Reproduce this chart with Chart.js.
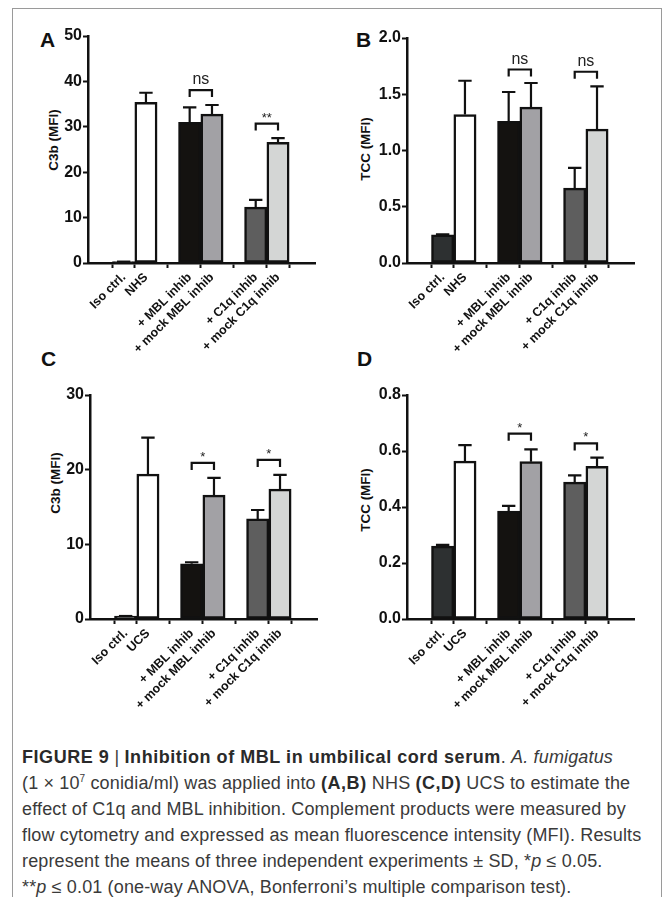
<!DOCTYPE html>
<html>
<head>
<meta charset="utf-8">
<title>Figure 9</title>
<script src="https://cdn.jsdelivr.net/npm/chart.js"></script>
<style>
  body { margin:0; background:#fff; width:663px; height:897px; overflow:hidden; font-family:"Liberation Sans", Arial, sans-serif; }
  .frame { position:absolute; left:12px; top:8px; width:648px; height:950px; border:1px solid #9a9a9a; }
  .box { position:absolute; }
  .letter { position:absolute; font-weight:bold; font-size:21px; color:#111; }
  .ytitle { position:absolute; font-weight:bold; font-size:13.5px; color:#111; white-space:nowrap; transform:translate(-50%,-50%) rotate(-90deg); }
  .caption { position:absolute; left:22px; top:744px; font-size:18px; line-height:26px; color:#3a3a3a; white-space:nowrap; letter-spacing:0.15px; }
  .caption b { color:#2a2a2a; letter-spacing:0.55px; }
</style>
</head>
<body>
<div class="frame"></div>

<div class="letter" style="left:40px;top:28px">A</div>
<div class="letter" style="left:356px;top:28px">B</div>
<div class="letter" style="left:41px;top:347px">C</div>
<div class="letter" style="left:357px;top:347px">D</div>

<div class="ytitle" style="left:53px;top:140px">C3b (MFI)</div>
<div class="ytitle" style="left:365px;top:149px">TCC (MFI)</div>
<div class="ytitle" style="left:55px;top:483px">C3b (MFI)</div>
<div class="ytitle" style="left:365px;top:500px">TCC (MFI)</div>

<div class="box" style="left:28px;top:20px"><canvas id="a" width="300" height="345"></canvas></div>
<div class="box" style="left:347px;top:20px"><canvas id="b" width="300" height="345"></canvas></div>
<div class="box" style="left:30px;top:380px"><canvas id="c" width="300" height="330"></canvas></div>
<div class="box" style="left:347px;top:380px"><canvas id="d" width="300" height="330"></canvas></div>

<div class="caption">
<b>FIGURE 9</b> | <b>Inhibition of MBL in umbilical cord serum</b>. <i>A. fumigatus</i><br>
(1 × 10<sup style="font-size:10px;line-height:0">7</sup> conidia/ml) was applied into <b>(A,B)</b> NHS <b>(C,D)</b> UCS to estimate the<br>
effect of C1q and MBL inhibition. Complement products were measured by<br>
flow cytometry and expressed as mean fluorescence intensity (MFI). Results<br>
represent the means of three independent experiments ± SD, *<i>p</i> ≤ 0.05.<br>
**<i>p</i> ≤ 0.01 (one-way ANOVA, Bonferroni’s multiple comparison test).
</div>

<script>
// groups on the x axis
const labelsNHS = ["Iso ctrl.", "NHS", "+ MBL inhib", "+ mock MBL inhib", "+ C1q inhib", "+ mock C1q inhib"];
const labelsUCS = ["Iso ctrl.", "UCS", "+ MBL inhib", "+ mock MBL inhib", "+ C1q inhib", "+ mock C1q inhib"];

// A: C3b in NHS
const c3bNHS = [0.3, 35.4, 31.0, 32.8, 12.3, 26.6];
const c3bNHSsd = [0, 2.1, 3.3, 2.0, 1.6, 0.9];
// B: TCC in NHS
const tccNHS = [0.25, 1.32, 1.26, 1.385, 0.665, 1.19];
const tccNHSsd = [0.005, 0.30, 0.26, 0.215, 0.18, 0.38];
// C: C3b in UCS
const c3bUCS = [0.4, 19.4, 7.4, 16.6, 13.4, 17.4];
const c3bUCSsd = [0, 4.9, 0.2, 2.3, 1.2, 1.9];
// D: TCC in UCS
const tccUCS = [0.26, 0.564, 0.385, 0.562, 0.489, 0.545];
const tccUCSsd = [0.005, 0.057, 0.019, 0.044, 0.024, 0.031];

// significance brackets: [from bar, to bar, height, text]
const sigA = [[2, 3, 38.1, "ns"], [4, 5, 30.7, "**"]];
const sigB = [[2, 3, 1.72, "ns"], [4, 5, 1.70, "ns"]];
const sigC = [[2, 3, 20.9, "*"], [4, 5, 21.3, "*"]];
const sigD = [[2, 3, 0.662, "*"], [4, 5, 0.627, "*"]];

// y axis ticks
const ticksA = [0, 10, 20, 30, 40, 50];
const ticksB = [0, 0.5, 1.0, 1.5, 2.0];
const ticksC = [0, 10, 20, 30];
const ticksD = [0, 0.2, 0.4, 0.6, 0.8];

// layout (not data): where each bar sits along the x axis, in bar widths
const slots = [0, 1, 2.96, 3.96, 5.92, 6.92];
const fills = ["#2d3031", "#ffffff", "#141210", "#a2a1a5", "#5e5e5e", "#d4d6d5"];

Chart.defaults.font.family = '"Liberation Sans", Arial, sans-serif';
Chart.defaults.color = "#111";

function marks(means, sd, sig) {
  return {
    id: "marks",
    afterDatasetsDraw(chart) {
      const { ctx } = chart;
      const x = chart.scales.x, y = chart.scales.y;
      const bars = chart.getDatasetMeta(0).data;
      ctx.save();
      ctx.strokeStyle = "#111";
      ctx.lineWidth = 2.2;
      bars.forEach((bar, i) => {
        const top = y.getPixelForValue(means[i] + sd[i]);
        const half = bar.width * 0.3;
        ctx.beginPath();
        ctx.moveTo(bar.x, bar.y);
        ctx.lineTo(bar.x, top);
        ctx.moveTo(bar.x - half, top);
        ctx.lineTo(bar.x + half, top);
        ctx.stroke();
      });
      sig.forEach(([i, j, h, txt]) => {
        const x1 = x.getPixelForValue(slots[i]);
        const x2 = x.getPixelForValue(slots[j]);
        const yy = y.getPixelForValue(h);
        ctx.beginPath();
        ctx.moveTo(x1, yy + 7);
        ctx.lineTo(x1, yy);
        ctx.lineTo(x2, yy);
        ctx.lineTo(x2, yy + 7);
        ctx.stroke();
        ctx.fillStyle = "#222";
        ctx.textAlign = "center";
        ctx.textBaseline = "alphabetic";
        ctx.font = txt === "ns" ? '16px "Liberation Sans", Arial' : '13px "Liberation Sans", Arial';
        ctx.fillText(txt, (x1 + x2) / 2, yy - (txt === "ns" ? 6 : 2));
      });
      ctx.restore();
    }
  };
}

function panel(id, labels, means, sd, sig, yTicks, decimals, pad, xh) {
  new Chart(document.getElementById(id), {
    type: "bar",
    data: {
      datasets: [{
        data: means.map((v, i) => ({ x: slots[i], y: v })),
        backgroundColor: fills,
        borderColor: "#111",
        borderWidth: 2.5,
        borderSkipped: false,
        barPercentage: 1,
        categoryPercentage: 1
      }]
    },
    options: {
      responsive: false,
      animation: false,
      devicePixelRatio: 1,
      layout: { padding: { top: pad.top, right: pad.right, left: 0, bottom: 0 } },
      plugins: { legend: { display: false }, tooltip: { enabled: false } },
      scales: {
        x: {
          type: "linear",
          min: -0.75,
          max: 7.73,
          afterBuildTicks: s => { s.ticks = slots.map(v => ({ value: v })); },
          afterFit: s => { s.height = xh; s.paddingLeft = 0; s.paddingRight = 0; },
          grid: { drawOnChartArea: false, tickLength: 5, tickWidth: 2, tickColor: "#111" },
          border: { color: "#111", width: 2.5 },
          ticks: {
            autoSkip: false,
            minRotation: 45,
            maxRotation: 45,
            padding: 2,
            font: { size: 12.5, weight: "bold" },
            callback: (v, i) => labels[i]
          }
        },
        y: {
          min: yTicks[0],
          max: yTicks[yTicks.length - 1],
          afterBuildTicks: s => { s.ticks = yTicks.map(v => ({ value: v })); },
          afterFit: s => { s.width = 60; s.paddingTop = 0; s.paddingBottom = 0; },
          grid: { drawOnChartArea: false, tickLength: 5, tickWidth: 2, tickColor: "#111" },
          border: { color: "#111", width: 2.5 },
          ticks: {
            padding: 1,
            font: { size: 16, weight: "bold" },
            callback: v => v.toFixed(decimals)
          }
        }
      }
    },
    plugins: [marks(means, sd, sig)]
  });
}

panel("a", labelsNHS, c3bNHS, c3bNHSsd, sigA, ticksA, 0, { top: 16, right: 13 }, 102);
panel("b", labelsNHS, tccNHS, tccNHSsd, sigB, ticksB, 1, { top: 18, right: 13 }, 102);
panel("c", labelsUCS, c3bUCS, c3bUCSsd, sigC, ticksC, 0, { top: 15, right: 13 }, 91);
panel("d", labelsUCS, tccUCS, tccUCSsd, sigD, ticksD, 1, { top: 15, right: 13 }, 91);
</script>
</body>
</html>
